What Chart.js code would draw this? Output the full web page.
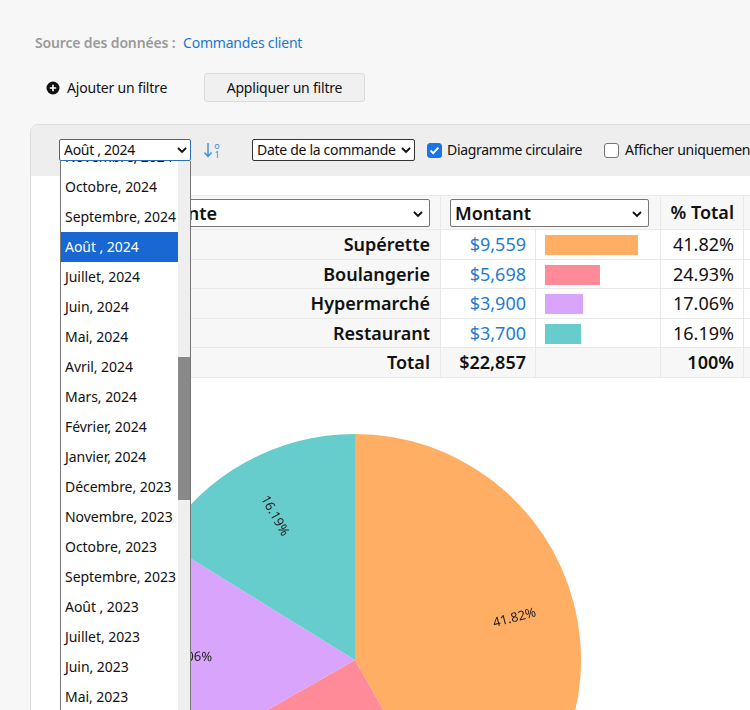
<!DOCTYPE html>
<html><head><meta charset="utf-8">
<script src="https://cdn.jsdelivr.net/npm/chart.js@4/dist/chart.umd.min.js"></script>
<style>
html,body{margin:0;padding:0;width:750px;height:710px;overflow:hidden;background:#f7f7f7;font-family:"Noto Sans","Open Sans",sans-serif;color:#111;}
.a{position:absolute;white-space:nowrap;}
.sel{position:absolute;background:#fff;border:1px solid #767676;border-radius:2px;box-sizing:border-box;}
.chev{position:absolute;}
</style></head>
<body>
<script>
// ---- data ----
const categories = ['Supérette','Boulangerie','Hypermarché','Restaurant'];
const amounts = [9559, 5698, 3900, 3700];
const colors = ['#FFAE63','#FF8A98','#D8A4FC','#67CDCC'];
const months = ['Novembre, 2024','Octobre, 2024','Septembre, 2024','Août , 2024','Juillet, 2024','Juin, 2024','Mai, 2024','Avril, 2024','Mars, 2024','Février, 2024','Janvier, 2024','Décembre, 2023','Novembre, 2023','Octobre, 2023','Septembre, 2023','Août , 2023','Juillet, 2023','Juin, 2023','Mai, 2023','Avril, 2023'];
const selectedMonth = 'Août , 2024';
</script>

<div class="a" style="left:35px;top:33px;font-size:14px;font-weight:600;color:#9a9a9a;letter-spacing:-0.15px">Source des données :</div>
<div class="a" style="left:183px;top:33px;font-size:14px;color:#1a78d0;letter-spacing:-0.2px">Commandes client</div>

<svg class="a" style="left:46px;top:81px" width="14" height="14"><circle cx="7" cy="7" r="6.5" fill="#111"/><path d="M7 3.8v6.4M3.8 7h6.4" stroke="#fff" stroke-width="1.6"/></svg>
<div class="a" style="left:67px;top:78px;font-size:14px;letter-spacing:-0.2px">Ajouter un filtre</div>
<div class="a" style="left:204px;top:73px;width:161px;height:29px;box-sizing:border-box;background:#f0f0f0;border:1px solid #dcdcdc;border-radius:3px;font-size:14px;text-align:center;line-height:27px;letter-spacing:-0.2px">Appliquer un filtre</div>

<!-- panel -->
<div class="a" style="left:30px;top:124px;width:740px;height:620px;background:#fff;border:1px solid #dcdcdc;border-radius:8px;box-sizing:border-box;overflow:hidden">
  <div class="a" style="left:0;top:0;width:740px;height:51px;background:#eeeeee"></div>
</div>

<!-- table -->
<div id="tbl"></div>

<!-- pie -->
<div class="a" style="left:129px;top:434px;width:452px;height:452px"><canvas id="pie"></canvas></div>

<!-- toolbar -->
<div class="sel" style="left:252px;top:139px;width:163px;height:22px;border-color:#333;font-size:14px;line-height:19px;padding-left:4px;letter-spacing:-0.3px">Date de la commande
<svg class="chev" style="right:3px;top:6px" width="10" height="8"><path d="M1 2l4 4 4-4" stroke="#111" stroke-width="1.9" fill="none"/></svg></div>
<svg class="a" style="left:427px;top:143px" width="15" height="15"><rect x="0.5" y="0.5" width="14" height="14" rx="2.5" fill="#1a73e8" stroke="#1a73e8"/><path d="M3.5 7.5l2.7 2.7 5.2-5.6" stroke="#fff" stroke-width="1.9" fill="none"/></svg>
<div class="a" style="left:447px;top:140px;font-size:14px;letter-spacing:-0.3px">Diagramme circulaire</div>
<svg class="a" style="left:604px;top:143px" width="15" height="15"><rect x="0.5" y="0.5" width="14" height="14" rx="2.5" fill="#fff" stroke="#767676"/></svg>
<div class="a" style="left:625px;top:140px;font-size:14px;letter-spacing:-0.3px">Afficher uniquement</div>
<svg class="a" style="left:203px;top:141px" width="18" height="19"><path d="M5 2v13M1.5 11.5L5 15.5l3.5-4" stroke="#3a8fd8" stroke-width="1.4" fill="none"/><text x="14" y="8" font-size="9" font-family="Noto Sans" fill="#3a8fd8" text-anchor="middle">o</text><text x="14" y="17" font-size="9" font-family="Noto Sans" fill="#3a8fd8" text-anchor="middle">1</text></svg>

<!-- date select + open list -->
<div class="sel" style="left:59px;top:139px;width:132px;height:22px;border-color:#2a6db0;font-size:14px;line-height:19px;padding-left:4px;letter-spacing:-0.3px">Août , 2024
<svg class="chev" style="right:3px;top:6px" width="10" height="8"><path d="M1 2l4 4 4-4" stroke="#111" stroke-width="1.9" fill="none"/></svg></div>
<div id="list" class="a" style="left:60px;top:161px;width:131px;height:560px;background:#fff;border:1px solid #767676;border-top:none;box-sizing:border-box;overflow:hidden">
  <div class="a" style="left:117px;top:0;width:12px;height:560px;background:#efefef"></div>
  <div class="a" style="left:117px;top:196px;width:12px;height:143px;background:#898989"></div>
</div>

<script>
// dropdown list items
const list = document.getElementById('list');
months.forEach((m, i) => {
  const d = document.createElement('div');
  d.className = 'a';
  const sel = m === selectedMonth;
  d.style.cssText = `left:0;top:${-19 + i*30}px;width:117px;height:30px;line-height:30px;padding-left:4px;box-sizing:border-box;font-size:14px;letter-spacing:-0.05px;` + (sel ? 'background:#1967d2;color:#fff;' : 'color:#111;');
  d.textContent = m;
  list.appendChild(d);
});

// table
const total = amounts.reduce((a, b) => a + b, 0);
const fmt = v => '$' + v.toLocaleString('en-US');
const pct = v => (v / total * 100).toFixed(2) + '%';
const tbl = document.getElementById('tbl');
function cell(x, y, w, h, bg, html, extra) {
  const d = document.createElement('div');
  d.className = 'a';
  d.style.cssText = `left:${x}px;top:${y}px;width:${w}px;height:${h}px;background:${bg};box-sizing:border-box;border-right:1px solid #e9e9e9;border-bottom:1px solid #e9e9e9;` + (extra || '');
  d.innerHTML = html || '';
  tbl.appendChild(d);
  return d;
}
const L = 64;
const hdrTop = 196, hdrH = 34, rowH = 29.5;
cell(L, hdrTop - 1, 750 - L, 1, '#e9e9e9', '', 'border:none');
// header
cell(L, hdrTop, 441 - L, hdrH, '#f7f7f7', `<div class="sel" style="left:8px;top:3px;width:${430 - L - 8}px;height:28px"><span class="a" style="right:${430 - 218}px;top:0;font-size:18px;font-weight:600;line-height:26px">Canal de vente</span><svg class="chev" style="right:6px;top:10px" width="10" height="8"><path d="M1 2l4 4 4-4" stroke="#111" stroke-width="1.9" fill="none"/></svg></div>`);
cell(441, hdrTop, 220, hdrH, '#f7f7f7', `<div class="sel" style="left:9px;top:3px;width:199px;height:28px"><span class="a" style="left:4px;top:0;font-size:18px;font-weight:600;line-height:26px">Montant</span><svg class="chev" style="right:6px;top:10px" width="10" height="8"><path d="M1 2l4 4 4-4" stroke="#111" stroke-width="1.9" fill="none"/></svg></div>`);
cell(661, hdrTop, 83, hdrH, '#f7f7f7', `<span class="a" style="right:9px;top:0;font-size:18px;font-weight:600;line-height:33px">% Total</span>`);
cell(744, hdrTop, 30, hdrH, '#f7f7f7', '');
categories.forEach((c, i) => {
  const y = hdrTop + hdrH + i * rowH;
  cell(L, y, 441 - L, rowH, '#f7f7f7', `<span class="a" style="right:10px;top:0;font-size:18px;font-weight:600;line-height:29px">${c}</span>`);
  cell(441, y, 95, rowH, '#fff', `<span class="a" style="right:9px;top:0;font-size:18px;color:#1f7bd0;line-height:29px">${fmt(amounts[i])}</span>`);
  cell(536, y, 125, rowH, '#fff', `<div class="a" style="left:9px;top:5px;height:20px;width:${(amounts[i] / total * 222).toFixed(1)}px;background:${colors[i]}"></div>`);
  cell(661, y, 83, rowH, '#fff', `<span class="a" style="right:9px;top:0;font-size:18px;line-height:29px">${pct(amounts[i])}</span>`);
  cell(744, y, 30, rowH, '#fff', '');
});
const ty = hdrTop + hdrH + categories.length * rowH;
cell(L, ty, 441 - L, rowH, '#f7f7f7', `<span class="a" style="right:10px;top:0;font-size:18px;font-weight:600;line-height:29px">Total</span>`);
cell(441, ty, 95, rowH, '#f7f7f7', `<span class="a" style="right:9px;top:0;font-size:18px;font-weight:600;line-height:29px">${fmt(total)}</span>`);
cell(536, ty, 125, rowH, '#f7f7f7', '');
cell(661, ty, 83, rowH, '#f7f7f7', `<span class="a" style="right:9px;top:0;font-size:18px;font-weight:600;line-height:29px">100%</span>`);
cell(744, ty, 30, rowH, '#f7f7f7', '');

// pie labels plugin
const pieLabels = {
  id: 'pieLabels',
  afterDatasetsDraw(chart) {
    const ctx = chart.ctx;
    const meta = chart.getDatasetMeta(0);
    meta.data.forEach((arc, i) => {
      const p = arc.getProps(['x', 'y', 'startAngle', 'endAngle', 'outerRadius'], true);
      const mid = (p.startAngle + p.endAngle) / 2;
      const r = p.outerRadius * 0.73;
      const px = p.x + Math.cos(mid) * r, py = p.y + Math.sin(mid) * r;
      let rot = Math.atan2(Math.sin(mid), Math.cos(mid));
      if (rot > Math.PI / 2) rot -= Math.PI; else if (rot < -Math.PI / 2) rot += Math.PI;
      ctx.save();
      ctx.translate(px, py);
      ctx.rotate(rot);
      ctx.font = '13px "Noto Sans"';
      ctx.fillStyle = '#222';
      ctx.textAlign = 'center';
      ctx.textBaseline = 'middle';
      ctx.fillText(pct(amounts[i]), 0, 0);
      ctx.restore();
    });
  }
};
new Chart(document.getElementById('pie'), {
  type: 'pie',
  data: { labels: categories, datasets: [{ data: amounts, backgroundColor: colors, borderWidth: 0 }] },
  options: {
    responsive: true, maintainAspectRatio: false, animation: false,
    layout: { padding: 0 },
    plugins: { legend: { display: false }, tooltip: { enabled: false } }
  },
  plugins: [pieLabels]
});
</script>
</body></html>
